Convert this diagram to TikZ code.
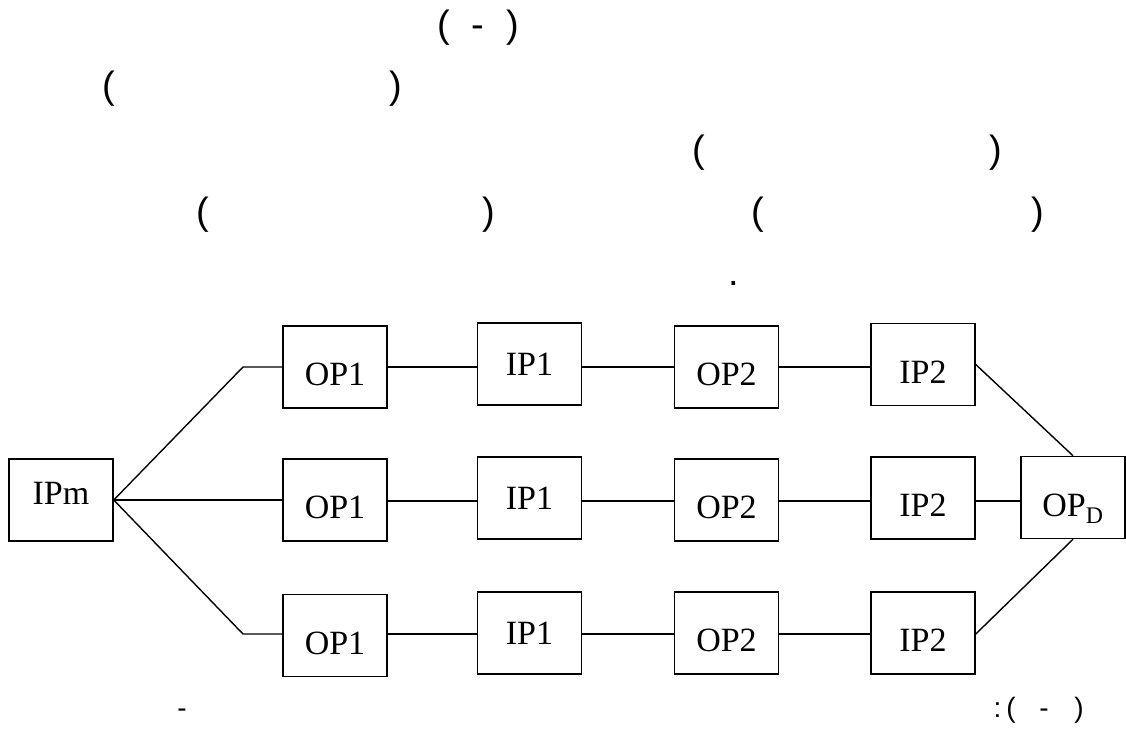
\documentclass[tikz,border=0pt]{standalone}
\usepackage{fontspec}
\setmainfont{Liberation Serif}
\newfontfamily\glyphfont{Liberation Sans}
\usetikzlibrary{calc}

\begin{document}
\begin{tikzpicture}[x=1pt,y=-1pt,
	box/.style={draw,line width=1.5pt,minimum width=104pt,minimum height=82pt,inner sep=0pt,font=\fontsize{34}{40}\selectfont},
	lowbox/.style={box,text height=40pt,text depth=3pt},
	midbox/.style={box,text height=26pt,text depth=3pt},
	highbox/.style={box,text height=10pt,text depth=2pt},
	wire/.style={line width=1.4pt},
	bigglyph/.style={inner sep=0pt,anchor=base,font=\glyphfont\fontsize{38}{44}\selectfont},
	smallglyph/.style={inner sep=0pt,anchor=base,font=\glyphfont\fontsize{28}{32}\selectfont}]

\useasboundingbox (0,0) rectangle (1126,736);

% text lines above and below
\foreach \x/\y/\t [count=\i] in {443.5/37/{(},478/37/{-},512.5/37/{)},
	109/98/{(},396/98/{)},699/162/{(},996/162/{)},
	202.5/224/{(},489/224/{)},758/224/{(},1037.5/224/{)},734/285/{.}}
	\node[bigglyph] (top\i) at (\x,\y) {\t};
\foreach \x/\t [count=\i] in {182/{-},997.5/{:},1011/{(},1044/{-},1079/{)}}
	\node[smallglyph] (bot\i) at (\x,717) {\t};

\coordinate (ya) at (0,367);
\coordinate (yb) at (0,501);
\coordinate (yc) at (0,634);

\node[highbox] (IPm) at (61,500) {IPm};

\node[lowbox] (o1a) at (335,367) {OP1};
\node[midbox] (i1a) at (529.5,364) {IP1};
\node[lowbox] (o2a) at (726.5,367) {OP2};
\node[lowbox] (i2a) at (923,364.5) {IP2};

\node[lowbox] (o1b) at (335,500) {OP1};
\node[midbox] (i1b) at (529.5,498) {IP1};
\node[lowbox] (o2b) at (726.5,500) {OP2};
\node[lowbox] (i2b) at (923,498) {IP2};

\node[lowbox] (o1c) at (335,635.5) {OP1};
\node[midbox] (i1c) at (529.5,633) {IP1};
\node[lowbox] (o2c) at (726.5,633) {OP2};
\node[lowbox] (i2c) at (923,633) {IP2};

\node[lowbox] (OPD) at (1073,497.5) {OP\textsubscript{D}};

\coordinate (ka) at (243,367);
\coordinate (kc) at (243,634);

\draw[wire] (IPm.east) -- (ka) -- (o1a.west |- ya);
\draw[wire] (IPm.east) -- (o1b.west |- IPm.east);
\draw[wire] (IPm.east) -- (kc) -- (o1c.west |- yc);

\foreach \r in {a,b,c}{
	\draw[wire] (o1\r.east |- y\r) -- (i1\r.west |- y\r);
	\draw[wire] (i1\r.east |- y\r) -- (o2\r.west |- y\r);
	\draw[wire] (o2\r.east |- y\r) -- (i2\r.west |- y\r);
}

\draw[wire] (i2a.east) -- (OPD.north);
\draw[wire] (i2b.east |- yb) -- (OPD.west |- yb);
\draw[wire] (i2c.east |- yc) -- (OPD.south);
\end{tikzpicture}
\end{document}
